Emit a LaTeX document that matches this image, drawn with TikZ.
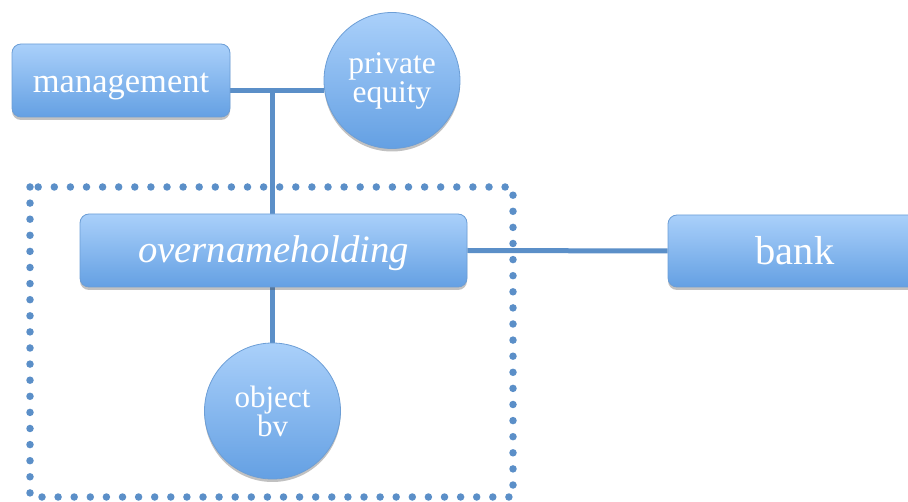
\documentclass[tikz,border=0pt]{standalone}
\usepackage{fontspec}
\setmainfont{Liberation Serif}
\usetikzlibrary{shadows,backgrounds}
\definecolor{linkblue}{RGB}{91,143,200}
\definecolor{boxtop}{RGB}{170,208,250}
\definecolor{boxbot}{RGB}{100,160,227}
\definecolor{boxedge}{RGB}{108,158,214}
\tikzset{
  unit/.style={draw=boxedge, line width=0.8pt, top color=boxtop, bottom color=boxbot,
    text=white, inner sep=0pt, align=center,
    drop shadow={shadow xshift=0pt, shadow yshift=-3pt, opacity=0.35, fill=black!70}},
  boxunit/.style={unit, rectangle, rounded corners=9pt, text depth=0pt},
  roundunit/.style={unit, circle, minimum size=136pt},
  link/.style={draw=linkblue, line width=5pt},
  groupframe/.style={draw=linkblue, line width=7.5pt, line cap=round, dash pattern=on 0pt off 16.1pt}
}
\begin{document}
\begin{tikzpicture}[x=1pt, y=-1pt]
  \useasboundingbox (0,0) rectangle (908,502);
  % dotted frame round the holding and its subsidiary
  \draw[groupframe] (30,187) rectangle (513,497);
  % units
  \node[boxunit, minimum width=218pt, minimum height=73pt, text height=25pt,
        font=\fontsize{34.5}{34.5}\selectfont]
    (mgmt) at (121,80.5) {management};
  \node[roundunit, font=\fontsize{31.5}{29}\selectfont] (pe) at (392,80.5) {private\\equity};
  \node[boxunit, minimum width=387pt, minimum height=73pt, text height=25pt,
        font=\fontsize{38.7}{38.7}\selectfont\itshape]
    (hold) at (273.5,250.5) {overnameholding};
  \node[boxunit, minimum width=254pt, minimum height=72pt, text height=28pt,
        font=\fontsize{40.5}{40.5}\selectfont]
    (bank) at (795,251) {bank};
  \node[roundunit, font=\fontsize{31}{29}\selectfont] (obj) at (272.5,411) {object\\bv};
  % connectors behind the units
  \coordinate (j) at (272,91);
  \begin{scope}[on background layer]
    \draw[link] (mgmt.east |- j) -- (j) -- (pe.west |- j);
    \draw[link] (j) -- (j |- hold.north);
    \draw[link] (hold.east) -- (bank.west);
    \draw[link] (hold.south -| obj.north) -- (obj.north);
  \end{scope}
\end{tikzpicture}
\end{document}
